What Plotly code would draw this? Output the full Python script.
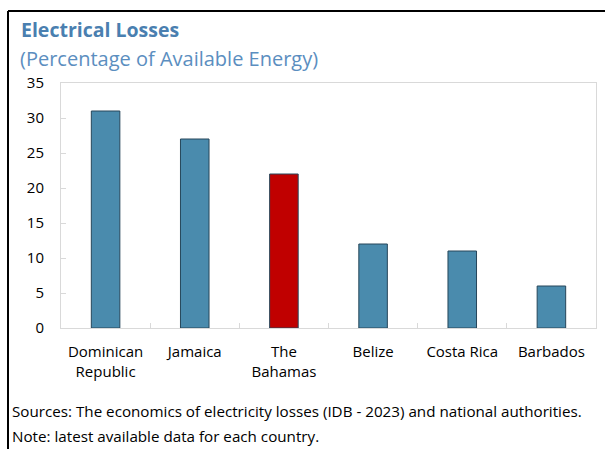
import plotly.graph_objects as go

countries = ["Dominican<br>Republic", "Jamaica", "The<br>Bahamas", "Belize", "Costa Rica", "Barbados"]
losses = [31, 27, 22, 12, 11, 6]
bar_colors = ["#4A8BAD", "#4A8BAD", "#C00000", "#4A8BAD", "#4A8BAD", "#4A8BAD"]
y_ticks = [0, 5, 10, 15, 20, 25, 30, 35]

W, H = 605, 449
L, R, T, B = 61, 9, 83, 121
pw, ph = W - L - R, H - T - B

def px(x):
    return (x - L) / pw

def py(y):
    return (H - B - y) / ph

FONT = "Open Sans"

fig = go.Figure(go.Bar(
    x=countries, y=losses,
    marker=dict(color=bar_colors, line=dict(color="#26465A", width=1)),
    width=0.32,
))

fig.update_layout(
    width=W, height=H,
    margin=dict(l=L, r=R, t=T, b=B),
    paper_bgcolor="white", plot_bgcolor="white",
    showlegend=False,
    font=dict(family=FONT, size=14, color="#000000"),
    xaxis=dict(
        showline=True, linecolor="#D9D9D9", linewidth=1, mirror=True,
        ticks="inside", tickson="boundaries", ticklen=5, tickcolor="#D9D9D9",
        showgrid=False, tickfont=dict(family=FONT, size=15, color="#000000"),
        ticklabelstandoff=10,
    ),
    yaxis=dict(
        range=[0, 35], tickvals=y_ticks,
        showline=True, linecolor="#D9D9D9", linewidth=1, mirror=True,
        ticks="inside", ticklen=5, tickcolor="#D9D9D9",
        showgrid=False, zeroline=False,
        tickfont=dict(family=FONT, size=15, color="#000000"), ticklabelstandoff=13,
    ),
    shapes=[
        dict(type="line", xref="paper", yref="paper", x0=px(8), x1=px(605), y0=py(11), y1=py(11),
             line=dict(color="#000000", width=2)),
        dict(type="line", xref="paper", yref="paper", x0=px(8), x1=px(8), y0=py(11), y1=py(449),
             line=dict(color="#000000", width=2)),
    ],
    annotations=[
        dict(text="<b>Electrical Losses</b>", xref="paper", yref="paper", x=px(19), y=py(29),
             xanchor="left", yanchor="middle", showarrow=False,
             font=dict(family=FONT, size=19.5, color="#4A7FB0")),
        dict(text="(Percentage of Available Energy)", xref="paper", yref="paper", x=px(18), y=py(58),
             xanchor="left", yanchor="middle", showarrow=False,
             font=dict(family=FONT, size=20, color="#5B8EC0")),
        dict(text="Sources: The economics of electricity losses (IDB - 2023) and national authorities.",
             xref="paper", yref="paper", x=px(10), y=py(411),
             xanchor="left", yanchor="middle", showarrow=False,
             font=dict(family=FONT, size=15.2, color="#000000")),
        dict(text="Note: latest available data for each country.",
             xref="paper", yref="paper", x=px(10), y=py(436),
             xanchor="left", yanchor="middle", showarrow=False,
             font=dict(family=FONT, size=15.2, color="#000000")),
    ],
)

fig.write_html("out.html", config={"displayModeBar": False},
               post_script="document.body.style.margin='0';document.body.style.overflow='hidden';")
